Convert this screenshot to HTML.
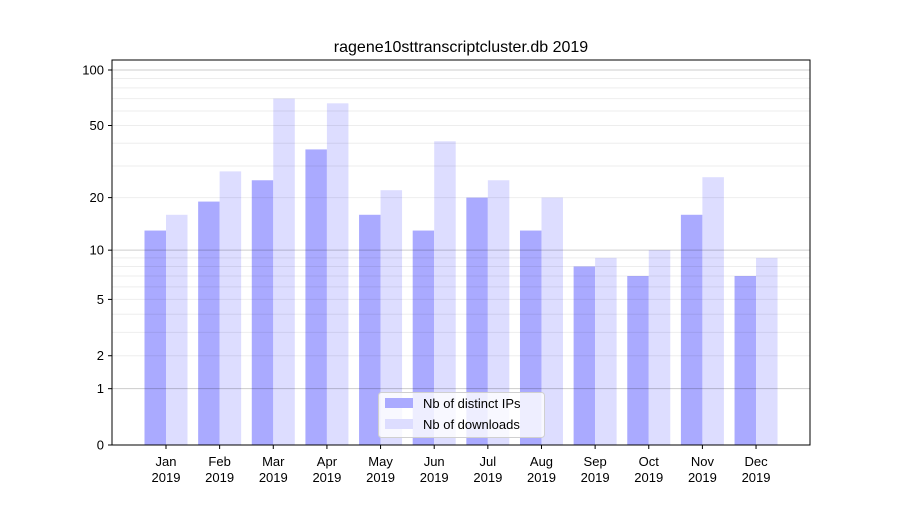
<!DOCTYPE html>
<html><head><meta charset="utf-8"><style>
body{margin:0;background:#fff;}
svg text{font-family:"Liberation Sans","DejaVu Sans",sans-serif;}
</style></head><body>
<svg id="c" width="900" height="500" xmlns="http://www.w3.org/2000/svg"></svg>
<script>
const s=document.getElementById('c');
let h='';
const Y=v=>445-187.1*Math.log10(1+v);
const ips=[13,19,25,37,16,13,20,13,8,7,16,7];
const dl=[16,28,70,66,22,41,25,20,9,10,26,9];
const m=['Jan','Feb','Mar','Apr','May','Jun','Jul','Aug','Sep','Oct','Nov','Dec'];
for(let i=0;i<12;i++){
 const c=166+i*53.64;
 h+=`<rect x="${c-21.5}" y="${Y(ips[i])}" width="21.5" height="${445-Y(ips[i])}" fill="#aaaaff"/>`;
 h+=`<rect x="${c}" y="${Y(dl[i])}" width="21.5" height="${445-Y(dl[i])}" fill="#ddddff"/>`;
 h+=`<line x1="${c}" x2="${c}" y1="445" y2="449" stroke="#000"/>`;
 h+=`<text x="${c}" y="466" font-size="13" text-anchor="middle">${m[i]}</text><text x="${c}" y="482" font-size="13" text-anchor="middle">2019</text>`;
}
const minors=[3,4,6,7,8,9,30,40,60,70,80,90,2,5,20,50];
minors.forEach(v=>{h+=`<line x1="112" x2="810" y1="${Y(v)}" y2="${Y(v)}" stroke="#000" stroke-opacity="0.07" stroke-width="1"/>`;});
[1,10,100].forEach(v=>{h+=`<line x1="112" x2="810" y1="${Y(v)}" y2="${Y(v)}" stroke="#000" stroke-opacity="0.2" stroke-width="1"/>`;});
[0,1,2,5,10,20,50,100].forEach(v=>{const y=Y(v);
 h+=`<line x1="108" x2="112" y1="${y}" y2="${y}" stroke="#000"/><text x="104" y="${y+4.5}" font-size="13" text-anchor="end">${v}</text>`;});
h+=`<rect x="112" y="60" width="698" height="385" fill="none" stroke="#000" stroke-width="1"/>`;
h+=`<text x="461" y="52" font-size="16" text-anchor="middle">ragene10sttranscriptcluster.db 2019</text>`;
h+=`<rect x="378.5" y="392.5" width="166" height="45" rx="3" fill="#fff" fill-opacity="0.8" stroke="#d0d0d0"/>`;
h+=`<rect x="385" y="398" width="28" height="10" fill="#aaaaff"/><text x="423" y="408" font-size="13">Nb of distinct IPs</text>`;
h+=`<rect x="385" y="419" width="28" height="10" fill="#ddddff"/><text x="423" y="429" font-size="13">Nb of downloads</text>`;
s.innerHTML=h;
</script>
</body></html>
